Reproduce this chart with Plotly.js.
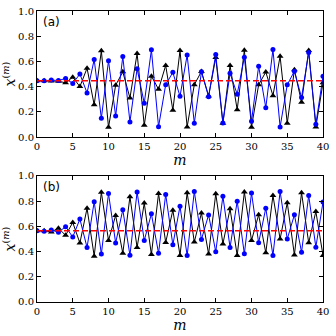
<!DOCTYPE html>
<html>
<head>
<meta charset="utf-8">
<script src="https://cdn.plot.ly/plotly-3.0.1.min.js"></script>
<style>
  html, body { margin: 0; padding: 0; background: #fff; }
  #chart { width: 336px; height: 336px; }
</style>
</head>
<body>
<div id="chart"></div>
<script>
// iteration index
let m = [0, 1, 2, 3, 4, 5, 6, 7, 8, 9, 10, 11, 12, 13, 14, 15, 16, 17, 18, 19, 20,
         21, 22, 23, 24, 25, 26, 27, 28, 29, 30, 31, 32, 33, 34, 35, 36, 37, 38, 39, 40];

// panel (a)
let blackA = [0.446, 0.446, 0.445, 0.443, 0.43, 0.475, 0.40, 0.546, 0.255, 0.684, 0.077,
              0.411, 0.517, 0.31, 0.663, 0.093, 0.483, 0.379, 0.568, 0.212, 0.686,
              0.08, 0.415, 0.52, 0.326, 0.63, 0.11, 0.567, 0.216, 0.688, 0.078,
              0.415, 0.516, 0.328, 0.64, 0.109, 0.534, 0.275, 0.686, 0.08, 0.43];
let blueA = [0.446, 0.446, 0.452, 0.448, 0.465, 0.425, 0.50, 0.35, 0.615, 0.149, 0.605,
             0.167, 0.638, 0.12, 0.542, 0.268, 0.692, 0.082, 0.415, 0.513, 0.323,
             0.65, 0.11, 0.517, 0.32, 0.655, 0.112, 0.505, 0.34, 0.633, 0.126,
             0.562, 0.233, 0.694, 0.08, 0.415, 0.522, 0.313, 0.67, 0.101, 0.482];
let fixedA = 0.446;

// panel (b)
let blackB = [0.566, 0.566, 0.556, 0.586, 0.529, 0.631, 0.468, 0.744, 0.364, 0.871, 0.488,
              0.687, 0.387, 0.836, 0.432, 0.785, 0.377, 0.861, 0.473, 0.729, 0.37,
              0.868, 0.476, 0.706, 0.38, 0.86, 0.461, 0.74, 0.369, 0.873, 0.488,
              0.692, 0.39, 0.846, 0.50, 0.788, 0.374, 0.867, 0.47, 0.719, 0.369];
let blueB = [0.566, 0.562, 0.572, 0.553, 0.598, 0.515, 0.658, 0.433, 0.796, 0.38, 0.861,
             0.469, 0.732, 0.371, 0.873, 0.488, 0.70, 0.387, 0.854, 0.454, 0.76,
             0.369, 0.877, 0.497, 0.691, 0.399, 0.84, 0.433, 0.80, 0.382, 0.865,
             0.47, 0.745, 0.369, 0.877, 0.50, 0.692, 0.395, 0.846, 0.435, 0.793];
let fixedB = 0.566;

let panels = ['(a)', '(b)'];
let xTicks = [0, 5, 10, 15, 20, 25, 30, 35, 40];
let yTicks = [0, 0.2, 0.4, 0.6, 0.8, 1.0];

let serif = 'DejaVu Serif, Liberation Serif, serif';

let mkBlack = function(y, xa, ya){
  return {
    x: m, y: y, xaxis: xa, yaxis: ya,
    mode: 'lines+markers', type: 'scatter',
    line: { color: 'black', width: 1 },
    marker: { symbol: 'triangle-up', size: 6, color: 'black' },
    showlegend: false, hoverinfo: 'skip'
  };
};
let mkBlue = function(y, xa, ya){
  return {
    x: m, y: y, xaxis: xa, yaxis: ya,
    mode: 'lines+markers', type: 'scatter',
    line: { color: '#0000ff', width: 1 },
    marker: { symbol: 'circle', size: 5, color: '#0000ff' },
    showlegend: false, hoverinfo: 'skip'
  };
};
let mkFixed = function(v, xa, ya){
  return {
    x: [m[0], m[m.length - 1]], y: [v, v], xaxis: xa, yaxis: ya,
    mode: 'lines', type: 'scatter',
    line: { color: 'red', width: 1.6, dash: '6px,3px' },
    showlegend: false, hoverinfo: 'skip'
  };
};

let data = [
  mkBlack(blackA, 'x', 'y'), mkBlue(blueA, 'x', 'y'), mkFixed(fixedA, 'x', 'y'),
  mkBlack(blackB, 'x2', 'y2'), mkBlue(blueB, 'x2', 'y2'), mkFixed(fixedB, 'x2', 'y2')
];

let xax = function(anchor){
  return {
    anchor: anchor, range: [0, 40], tickvals: xTicks,
    ticks: 'inside', ticklen: 4, tickcolor: 'black',
    showline: true, linecolor: 'black', linewidth: 1, mirror: 'ticks',
    showgrid: false, zeroline: false,
    tickfont: { family: serif, size: 10, color: 'black' },
    title: { text: '<i>m</i>', font: { family: serif, size: 14, color: 'black' }, standoff: 2 }
  };
};
let yax = function(anchor, dom){
  return {
    anchor: anchor, domain: dom, range: [0, 1], tickvals: yTicks, tickformat: '.1f',
    ticks: 'inside', ticklen: 4, tickcolor: 'black',
    showline: true, linecolor: 'black', linewidth: 1, mirror: 'ticks',
    showgrid: false, zeroline: false,
    tickfont: { family: serif, size: 10, color: 'black' },
    title: { text: '<i>x</i><sup>(<i>m</i>)</sup>', font: { family: serif, size: 14, color: 'black' }, standoff: 4 }
  };
};

let layout = {
  width: 336, height: 336,
  margin: { l: 37, r: 13, t: 11, b: 34 },
  paper_bgcolor: 'white', plot_bgcolor: 'white',
  xaxis: xax('y'),
  yaxis: yax('x', [0.567, 1]),
  xaxis2: xax('y2'),
  yaxis2: yax('x2', [0, 0.433]),
  annotations: [
    { text: panels[0], xref: 'x domain', yref: 'y domain', x: 0.015, y: 0.985,
      xanchor: 'left', yanchor: 'top', showarrow: false,
      font: { family: 'DejaVu Sans, sans-serif', size: 12, color: 'black' } },
    { text: panels[1], xref: 'x2 domain', yref: 'y2 domain', x: 0.015, y: 0.985,
      xanchor: 'left', yanchor: 'top', showarrow: false,
      font: { family: 'DejaVu Sans, sans-serif', size: 12, color: 'black' } }
  ]
};

Plotly.newPlot('chart', data, layout, { staticPlot: true });
</script>
</body>
</html>
